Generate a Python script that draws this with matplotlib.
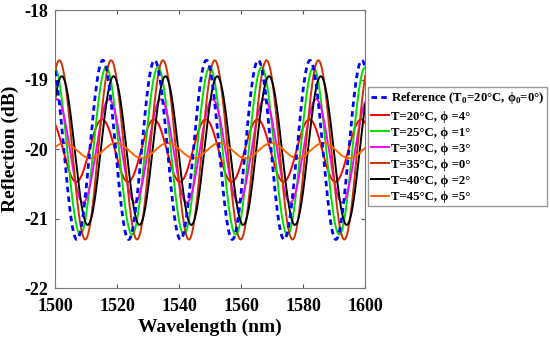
import matplotlib.pyplot as plt
import numpy as np

plt.rcParams['font.family'] = ['Liberation Serif', 'DejaVu Serif']
plt.rcParams['font.weight'] = 'bold'
plt.rcParams['mathtext.fontset'] = 'custom'
plt.rcParams['mathtext.rm'] = 'Liberation Serif:bold'
plt.rcParams['mathtext.bf'] = 'Liberation Serif:bold'
plt.rcParams['axes.unicode_minus'] = False

# series
labels = ['Reference (T$_\\mathrm{0}$=20°C, ϕ$_\\mathrm{0}$=0°)',
          'T=20°C, ϕ =4°', 'T=25°C, ϕ =1°', 'T=30°C, ϕ =3°',
          'T=35°C, ϕ =0°', 'T=40°C, ϕ =2°', 'T=45°C, ϕ =5°']
colors = ['#0000ff', '#ff0000', '#00e000', '#ff00ff', '#cc3300', '#000000', '#ff6600']
peak_db = [-18.72, -19.57, -18.82, -19.28, -18.72, -18.95, -19.91]
dip_db = [-21.30, -20.47, -21.23, -20.77, -21.30, -21.09, -20.13]
first_peak_nm = [1515.4, 1515.2, 1516.5, 1517.4, 1518.1, 1518.9, 1519.7]
fsr_nm = 16.7  # fringe spacing

wl = np.linspace(1500, 1600, 2000)

fig = plt.figure(figsize=(5.5, 3.43), dpi=100)
ax = fig.add_axes([0.1, 0.16, 0.564, 0.81])

for lab, c, pk, dp, p0 in zip(labels, colors, peak_db, dip_db, first_peak_nm):
    mid = (pk + dp) / 2
    amp = (pk - dp) / 2
    r = mid + amp * np.cos(2 * np.pi * (wl - p0) / fsr_nm)
    if lab.startswith('Reference'):
        ax.plot(wl, r, color=c, lw=2, ls=(0, (2, 1.5)), label=lab, zorder=5)
    else:
        ax.plot(wl, r, color=c, lw=1.4, label=lab)

ax.set_xlim(1500, 1600)
ax.set_ylim(-22, -18)
ax.set_xticks(np.arange(1500, 1601, 20))
ax.set_yticks(np.arange(-22, -17, 1))
ax.tick_params(direction='in', top=True, right=True, labelsize=13, length=3,
               color='#555555')
ax.tick_params(axis='x', pad=7)
ax.tick_params(axis='y', pad=5)
for s in ax.spines.values():
    s.set_color('#777777')
ax.set_xlabel('Wavelength (nm)', fontsize=14, fontweight='bold', labelpad=3)
ax.set_ylabel('Reflection (dB)', fontsize=14, fontweight='bold', labelpad=4)

leg = ax.legend(loc='upper left', bbox_to_anchor=(1.008, 0.723), fontsize=9.2,
                handlelength=1.4, handletextpad=0.15, borderpad=0.25,
                labelspacing=0.32, fancybox=False, framealpha=1,
                edgecolor='#999999', borderaxespad=0)
for t in leg.get_texts():
    t.set_fontweight('bold')

fig.savefig('out.png', dpi=100)
